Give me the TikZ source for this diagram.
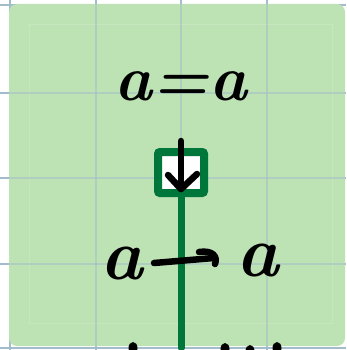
\documentclass[tikz,border=0pt]{standalone}
\usetikzlibrary{arrows.meta,calc}
\definecolor{panelgreen}{HTML}{BDE2B3}
\definecolor{gridblue}{HTML}{A3BCCB}
\definecolor{darkgreen}{HTML}{00773A}
\tikzset{
  gridline/.style={draw=gridblue, line width=1.1pt},
  ink/.style={draw=black, line width=6.5pt, line cap=round, line join=round},
  hand/.style={inner sep=0pt, font=\fontsize{64}{64}\selectfont\bfseries\itshape},
  bighand/.style={inner sep=0pt, font=\fontsize{72}{72}\selectfont\bfseries\itshape},
  boxframe/.style={draw=darkgreen, fill=white, line width=8pt, rounded corners=2pt, minimum width=46pt, minimum height=41pt, inner sep=0pt},
  stem/.style={draw=darkgreen, line width=7pt, line cap=round},
}
\begin{document}
\begin{tikzpicture}[x=1pt,y=-1pt]
\useasboundingbox (0,0) rectangle (346,350);
% grid behind panel
\foreach \gx in {10,96,181,267} \draw[gridline] (\gx,0) -- (\gx,350);
\foreach \gy in {5,93,178,264,348} \draw[gridline] (0,\gy) -- (346,\gy);
% panel
\fill[panelgreen, rounded corners=8pt] (9,4) rectangle (345,346);
\draw[white, opacity=0.15, line width=1pt] (29,25) rectangle (332,323);
% grid over panel (faint)
\foreach \gx in {96,181,267} \draw[gridline, opacity=0.5] (\gx,4) -- (\gx,346);
\foreach \gy in {93,178,264} \draw[gridline, opacity=0.5] (9,\gy) -- (345,\gy);
% stem and box
\coordinate (stemend) at (181,348);
\node[boxframe] (box) at (181,172.5) {};
\draw[stem] (box.south) -- (stemend);
% top equation
\node[hand] (eq) at (181,86) {a=a};
% down arrow
\coordinate (arrtop) at (181,141);
\coordinate (arrbot) at (181,189);
\draw[ink] (arrtop) -- (arrbot);
\draw[ink] ($(arrbot)+(-13,-14)$) -- (arrbot) -- ($(arrbot)+(16,-15)$);
% a -> a
\node[bighand] (la) at (122,264) {a};
\node[bighand] (ra) at (258,261) {a};
\coordinate (shaftstart) at (154,263);
\coordinate (shaftend) at (214,258);
\draw[ink] (shaftstart) -- (shaftend);
\draw[ink] (199,252) .. controls (212,250) and (218,256) .. (215,264);
% cut-off marks at bottom
\foreach \mx/\my in {133/348,225/349,250/351,277/348}
  \fill[black] (\mx,\my) ellipse (4.5pt and 6pt);
\end{tikzpicture}
\end{document}
